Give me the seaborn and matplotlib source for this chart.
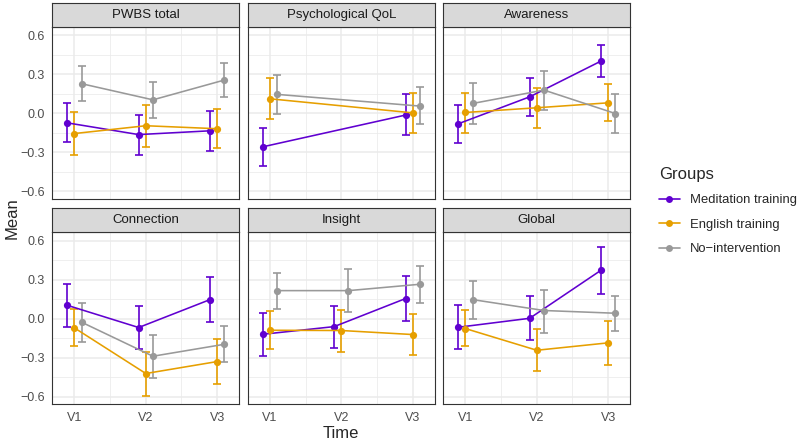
import numpy as np
import pandas as pd
import matplotlib
matplotlib.use("Agg")
import matplotlib.pyplot as plt
from matplotlib.lines import Line2D
import seaborn as sns

sns.set_style("white")
plt.rcParams['font.family'] = ['Liberation Sans', 'DejaVu Sans']

# datos
paneles = ['PWBS total', 'Psychological QoL', 'Awareness', 'Connection', 'Insight', 'Global']
grupos = ['Meditation training', 'English training', 'No\u2212intervention']
tiempos = ['V1', 'V2', 'V3']
colores = ['#6000D0', '#E69F00', '#999999']

# media por panel y grupo (V1, V2, V3); nan = sin dato
media = {
    'PWBS total':        [[-0.075, -0.165, -0.136], [-0.157, -0.097, -0.120], [0.226, 0.102, 0.254]],
    'Psychological QoL': [[-0.259, np.nan, -0.015], [0.110, np.nan, 0.002], [0.144, np.nan, 0.054]],
    'Awareness':         [[-0.082, 0.125, 0.400], [0.005, 0.041, 0.079], [0.074, 0.177, -0.003]],
    'Connection':        [[0.102, -0.069, 0.146], [-0.072, -0.423, -0.331], [-0.028, -0.290, -0.198]],
    'Insight':           [[-0.121, -0.062, 0.154], [-0.090, -0.092, -0.123], [0.215, 0.215, 0.264]],
    'Global':            [[-0.067, 0.002, 0.372], [-0.077, -0.244, -0.187], [0.146, 0.062, 0.041]],
}
inferior = {
    'PWBS total':        [[-0.22, -0.32, -0.29], [-0.32, -0.26, -0.27], [0.092, -0.036, 0.125]],
    'Psychological QoL': [[-0.405, np.nan, -0.172], [-0.044, np.nan, -0.151], [-0.003, np.nan, -0.087]],
    'Awareness':         [[-0.228, -0.023, 0.277], [-0.149, -0.113, -0.059], [-0.087, 0.023, -0.151]],
    'Connection':        [[-0.062, -0.236, -0.028], [-0.213, -0.595, -0.50], [-0.177, -0.457, -0.338]],
    'Insight':           [[-0.29, -0.226, -0.018], [-0.236, -0.257, -0.28], [0.077, 0.048, 0.12]],
    'Global':            [[-0.236, -0.162, 0.19], [-0.215, -0.405, -0.354], [0.0, -0.108, -0.097]],
}
superior = {
    'PWBS total':        [[0.075, -0.013, 0.018], [0.01, 0.064, 0.033], [0.364, 0.24, 0.382]],
    'Psychological QoL': [[-0.113, np.nan, 0.146], [0.27, np.nan, 0.154], [0.292, np.nan, 0.197]],
    'Awareness':         [[0.064, 0.272, 0.525], [0.154, 0.192, 0.221], [0.231, 0.323, 0.149]],
    'Connection':        [[0.264, 0.097, 0.318], [0.077, -0.257, -0.156], [0.118, -0.126, -0.057]],
    'Insight':           [[0.043, 0.1, 0.325], [0.056, 0.066, 0.033], [0.351, 0.382, 0.405]],
    'Global':            [[0.102, 0.172, 0.548], [0.066, -0.082, -0.021], [0.287, 0.223, 0.177]],
}

filas = []
for p in paneles:
    for g, grupo in enumerate(grupos):
        for t, tiempo in enumerate(tiempos):
            filas.append({'Panel': p, 'Grupo': grupo, 'Time': tiempo, 'it': t, 'ig': g,
                          'Mean': media[p][g][t], 'lo': inferior[p][g][t], 'hi': superior[p][g][t]})
df = pd.DataFrame(filas).dropna()
# esquiva (dodge) entre grupos
df['x'] = df['it'] + (df['ig'] - 1) * 0.1

paleta = dict(zip(grupos, colores))

fig = plt.figure(figsize=(8, 4.42), dpi=100)
W, H = 800, 442
lefts = [52.3, 247.8, 443.3]
ancho = 187
filas_y = [(26.7, 199.0), (232.3, 404.3)]
alto_tira = 24

gris_borde = '#333333'
for i, p in enumerate(paneles):
    fila, col = divmod(i, 3)
    top, bot = filas_y[fila]
    ax = fig.add_axes([lefts[col] / W, 1 - bot / H, ancho / W, (bot - top) / H])
    sub = df[df['Panel'] == p]
    for grupo in grupos:
        s = sub[sub['Grupo'] == grupo]
        ax.errorbar(s['x'], s['Mean'], yerr=[s['Mean'] - s['lo'], s['hi'] - s['Mean']],
                    fmt='none', ecolor=paleta[grupo], elinewidth=1.2, capsize=2.7,
                    capthick=1.2, zorder=3)
    sns.lineplot(data=sub, x='x', y='Mean', hue='Grupo', hue_order=grupos, palette=paleta,
                 marker='o', markersize=5.2, markeredgewidth=0, linewidth=1.15,
                 legend=False, ax=ax, zorder=4)
    ax.set_xlim(-0.31, 2.31)
    ax.set_ylim(-0.66, 0.664)
    ax.set_xticks([0, 1, 2])
    ax.set_xticks([0.5, 1.5], minor=True)
    ax.set_yticks([-0.6, -0.3, 0.0, 0.3, 0.6])
    ax.set_yticks([-0.45, -0.15, 0.15, 0.45], minor=True)
    ax.grid(True, which='major', color='#EBEBEB', linewidth=1.1, zorder=0)
    ax.grid(True, which='minor', color='#EBEBEB', linewidth=0.55, zorder=0)
    ax.set_axisbelow(True)
    ax.tick_params(which='major', length=3, width=0.8, color=gris_borde, labelsize=9,
                   labelcolor='#4D4D4D', pad=2.5)
    ax.tick_params(which='minor', length=0)
    if fila == 1:
        ax.set_xticklabels(tiempos)
    else:
        ax.set_xticklabels([])
    if col == 0:
        ax.set_yticklabels(['\u22120.6', '\u22120.3', '0.0', '0.3', '0.6'])
    else:
        ax.set_yticklabels([])
    ax.set_xlabel('')
    ax.set_ylabel('')
    for sp in ax.spines.values():
        sp.set_color(gris_borde)
        sp.set_linewidth(0.8)
    # tira del panel
    tira = fig.add_axes([lefts[col] / W, 1 - top / H, ancho / W, alto_tira / H])
    tira.set_facecolor('#D9D9D9')
    tira.set_xticks([])
    tira.set_yticks([])
    for sp in tira.spines.values():
        sp.set_color(gris_borde)
        sp.set_linewidth(0.8)
    tira.text(0.5, 0.5, p, ha='center', va='center', fontsize=9.5, color='#1A1A1A',
              transform=tira.transAxes)

fig.text(341 / W, 1 - 433 / H, 'Time', ha='center', va='center', fontsize=12)
fig.text(12 / W, 1 - 218 / H, 'Mean', ha='center', va='center', fontsize=12, rotation=90)

manijas = [Line2D([0], [0], color=c, marker='o', markersize=5, linewidth=1.2,
                  markeredgewidth=0) for c in colores]
leg = fig.legend(manijas, grupos, loc='upper left', bbox_to_anchor=(647 / W, 1 - 155 / H),
                 frameon=False, fontsize=9.4, title='Groups', title_fontsize=12,
                 handlelength=1.6, labelspacing=0.95, handletextpad=0.8)
leg._legend_box.align = 'left'

fig.savefig('out.png', dpi=100)
